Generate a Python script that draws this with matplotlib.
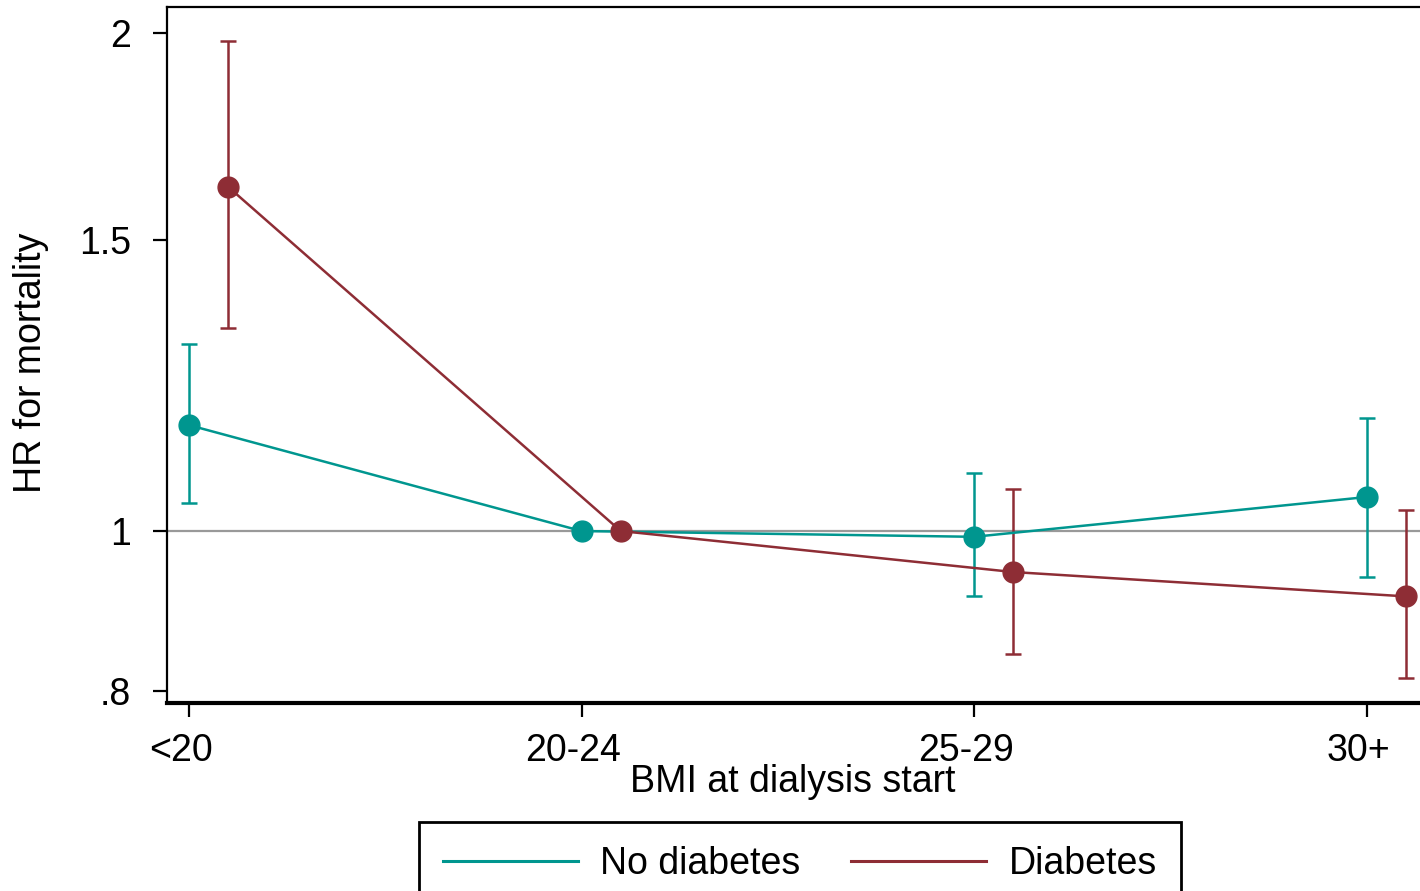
import matplotlib.pyplot as plt
from matplotlib.lines import Line2D
from matplotlib.transforms import ScaledTranslation

plt.rcParams['font.family'] = ['Liberation Sans', 'DejaVu Sans']

bmi_groups = ['<20', '20-24', '25-29', '30+']

# hazard ratios and 95% CI, no diabetes
hr_nodm = [1.159, 1.0, 0.992, 1.0485]
lo_nodm = [1.040, 1.0, 0.913, 0.938]
hi_nodm = [1.297, 1.0, 1.084, 1.170]

# hazard ratios and 95% CI, diabetes
hr_dm = [1.615, 1.0, 0.9445, 0.913]
lo_dm = [1.327, 1.0, 0.843, 0.815]
hi_dm = [1.979, 1.0, 1.060, 1.030]

teal = '#00968F'
maroon = '#8E2D35'
fs = 27

fig = plt.figure(figsize=(14.2, 8.91), dpi=100)
ax_w = (1445 - 167) / 1420
ax = fig.add_axes([167/1420, 188/891, ax_w, (703-7)/891])

x = list(range(len(bmi_groups)))
x_dm = [i + 0.1 for i in x]

ax.axhline(1, color='#999999', lw=1.6, zorder=1)

ax.errorbar(x, hr_nodm,
            yerr=[[h - l for h, l in zip(hr_nodm, lo_nodm)],
                  [u - h for h, u in zip(hr_nodm, hi_nodm)]],
            color=teal, lw=1.8, capsize=6, capthick=1.8,
            marker='o', markersize=15, zorder=3)
ax.errorbar(x_dm, hr_dm,
            yerr=[[h - l for h, l in zip(hr_dm, lo_dm)],
                  [u - h for h, u in zip(hr_dm, hi_dm)]],
            color=maroon, lw=1.8, capsize=6, capthick=1.8,
            marker='o', markersize=15, zorder=3)

ax.set_yscale('log')
ax.set_ylim(0.787, 2.075)
ax.set_yticks([0.8, 1, 1.5, 2])
ax.set_yticklabels(['.8', '1', '1.5', '2'])
ax.minorticks_off()
ax.set_xlim(-22/392.5, (1445-189)/392.5)
ax.set_xticks(x)
ax.set_xticklabels([])

# category labels sit slightly left of their ticks
shift = ax.get_xaxis_transform() + ScaledTranslation(-8/100, -30/100, fig.dpi_scale_trans)
for xi, lab in zip(x, bmi_groups):
    ax.text(xi, 0, lab, transform=shift, ha='center', va='top', fontsize=fs)

ax.tick_params(axis='both', labelsize=fs, width=1.6, length=10, color='black')
ax.tick_params(axis='y', pad=16)
for side in ['left', 'top']:
    ax.spines[side].set_linewidth(1.6)
ax.spines['bottom'].set_linewidth(3)
ax.spines['right'].set_visible(False)

ax.set_ylabel('HR for mortality', fontsize=fs)
ax.yaxis.set_label_coords((49 - 167) / 1278, (703 - 363) / 696)
fig.text(793/1420, 1 - 782/891, 'BMI at dialysis start', fontsize=fs,
         ha='center', va='center')

handles = [Line2D([], [], color=teal, lw=2.2), Line2D([], [], color=maroon, lw=2.2)]
leg = fig.legend(handles, ['No diabetes', 'Diabetes'], ncol=2,
                 loc='upper center', bbox_to_anchor=(800/1420, 1 - 822/891),
                 fontsize=fs, frameon=True, fancybox=False, framealpha=1,
                 handlelength=3.6, handletextpad=0.6, columnspacing=1.35,
                 borderpad=0.65, borderaxespad=0)
leg.get_frame().set_edgecolor('black')
leg.get_frame().set_linewidth(2)

fig.savefig('out.png', dpi=100)
